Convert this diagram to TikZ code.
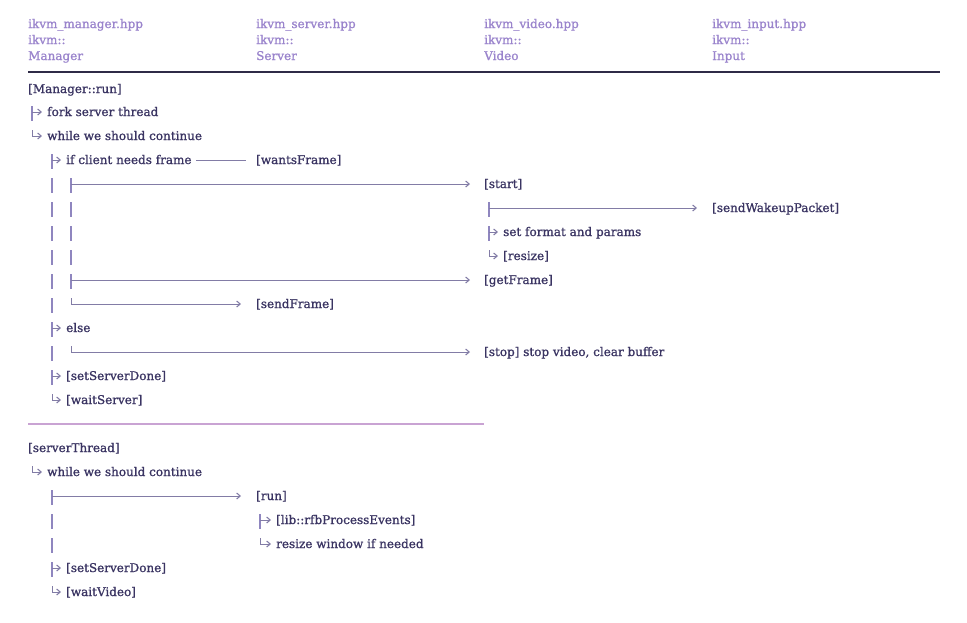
\documentclass[tikz,border=0pt]{standalone}
\usepackage{fontspec}
\setmainfont{DejaVu Serif}[FakeBold=1.1]
\usetikzlibrary{arrows.meta}
\definecolor{hdr}{HTML}{9A84CC}
\definecolor{txt}{HTML}{3A3462}
\definecolor{ln}{HTML}{827CA6}
\definecolor{barc}{HTML}{8F86BF}
\definecolor{rulec}{HTML}{2F2B47}
\definecolor{sepc}{HTML}{C9A3D3}
\newcommand\vbr[2]{\draw[vbar] (#1,#2-6) -- (#1,#2+9);}
\newcommand\teb[4][5]{\draw[vbar] (#2,#3-6) -- (#2,#3+9);\draw[twig,shorten >=#1pt] (#2,#3) -- (#4.west);}
\newcommand\elb[4][5]{\draw[twig,shorten >=#1pt] (#2,#3-6) -- (#2,#3) -- (#4.west);}
\begin{document}
\begin{tikzpicture}[x=1pt,y=-1pt,
  lbl/.style={anchor=west, inner sep=0pt, text height=9pt, text depth=1pt, text=txt, font=\fontsize{12}{14}\selectfont},
  hd/.style={lbl, text=hdr},
  vbar/.style={draw=barc, line width=1.1pt},
  twig/.style={draw=ln, line width=1pt, -{Straight Barb[length=3.5pt,width=6pt,line width=1.1pt]}},
  link/.style={draw=ln, line width=1pt},
  toprule/.style={draw=rulec, line width=2.5pt},
  seprule/.style={draw=sepc, line width=2pt}
]
\useasboundingbox (0,0) rectangle (967,622);
% header
\node[hd] (h1a) at (28,24) {ikvm\_manager.hpp};
\node[hd] (h1b) at (28,40) {ikvm::};
\node[hd] (h1c) at (28,56) {Manager};
\node[hd] (h2a) at (256,24) {ikvm\_server.hpp};
\node[hd] (h2b) at (256,40) {ikvm::};
\node[hd] (h2c) at (256,56) {Server};
\node[hd] (h3a) at (484,24) {ikvm\_video.hpp};
\node[hd] (h3b) at (484,40) {ikvm::};
\node[hd] (h3c) at (484,56) {Video};
\node[hd] (h4a) at (712,24) {ikvm\_input.hpp};
\node[hd] (h4b) at (712,40) {ikvm::};
\node[hd] (h4c) at (712,56) {Input};
\coordinate (rl) at (28,72);
\coordinate (rr) at (940,72);
\draw[toprule] (rl) -- (rr);
% manager run
\node[lbl] (mrun) at (28,89) {[Manager::run]};
\node[lbl] (fork) at (47,112) {fork server thread};
\node[lbl] (wh1) at (47,136) {while we should continue};
\node[lbl] (ifc) at (66,160) {if client needs frame};
\node[lbl] (wf) at (256,160) {[wantsFrame]};
\node[lbl] (start) at (484,184) {[start]};
\node[lbl] (wake) at (712,208) {[sendWakeupPacket]};
\node[lbl] (setf) at (503,232) {set format and params};
\node[lbl] (rsz) at (503,256) {[resize]};
\node[lbl] (getf) at (484,280) {[getFrame]};
\node[lbl] (sendf) at (256,304) {[sendFrame]};
\node[lbl] (els) at (66,328) {else};
\node[lbl] (stop) at (484,352) {[stop] stop video, clear buffer};
\node[lbl] (ssd1) at (66,376) {[setServerDone]};
\node[lbl] (wsrv) at (66,400) {[waitServer]};
\teb{32}{112}{fork}
\elb{32}{136}{wh1}
\teb{52}{160}{ifc}
\draw[link] (ifc.east) ++(4,0) -- ([xshift=-10pt]wf.west);
\vbr{52}{184}\teb[14]{71}{184}{start}
\vbr{52}{208}\vbr{71}{208}\teb[15]{489}{208}{wake}
\vbr{52}{232}\vbr{71}{232}\teb{489}{232}{setf}
\vbr{52}{256}\vbr{71}{256}\elb{489}{256}{rsz}
\vbr{52}{280}\teb[14]{71}{280}{getf}
\vbr{52}{304}\elb[15]{71}{304}{sendf}
\teb{52}{328}{els}
\vbr{52}{352}\elb[14]{71}{352}{stop}
\teb{52}{376}{ssd1}
\elb{52}{400}{wsrv}
\coordinate (sl) at (28,424);
\coordinate (sr) at (484,424);
\draw[seprule] (sl) -- (sr);
% server thread
\node[lbl] (sthr) at (28,448) {[serverThread]};
\node[lbl] (wh2) at (47,472) {while we should continue};
\node[lbl] (run) at (256,496) {[run]};
\node[lbl] (rfb) at (276,520) {[lib::rfbProcessEvents]};
\node[lbl] (rwin) at (276,544) {resize window if needed};
\node[lbl] (ssd2) at (66,568) {[setServerDone]};
\node[lbl] (wvid) at (66,592) {[waitVideo]};
\elb{32}{472}{wh2}
\teb[15]{52}{496}{run}
\vbr{52}{520}\teb{260}{520}{rfb}
\vbr{52}{544}\elb{260}{544}{rwin}
\teb{52}{568}{ssd2}
\elb{52}{592}{wvid}
\end{tikzpicture}
\end{document}
